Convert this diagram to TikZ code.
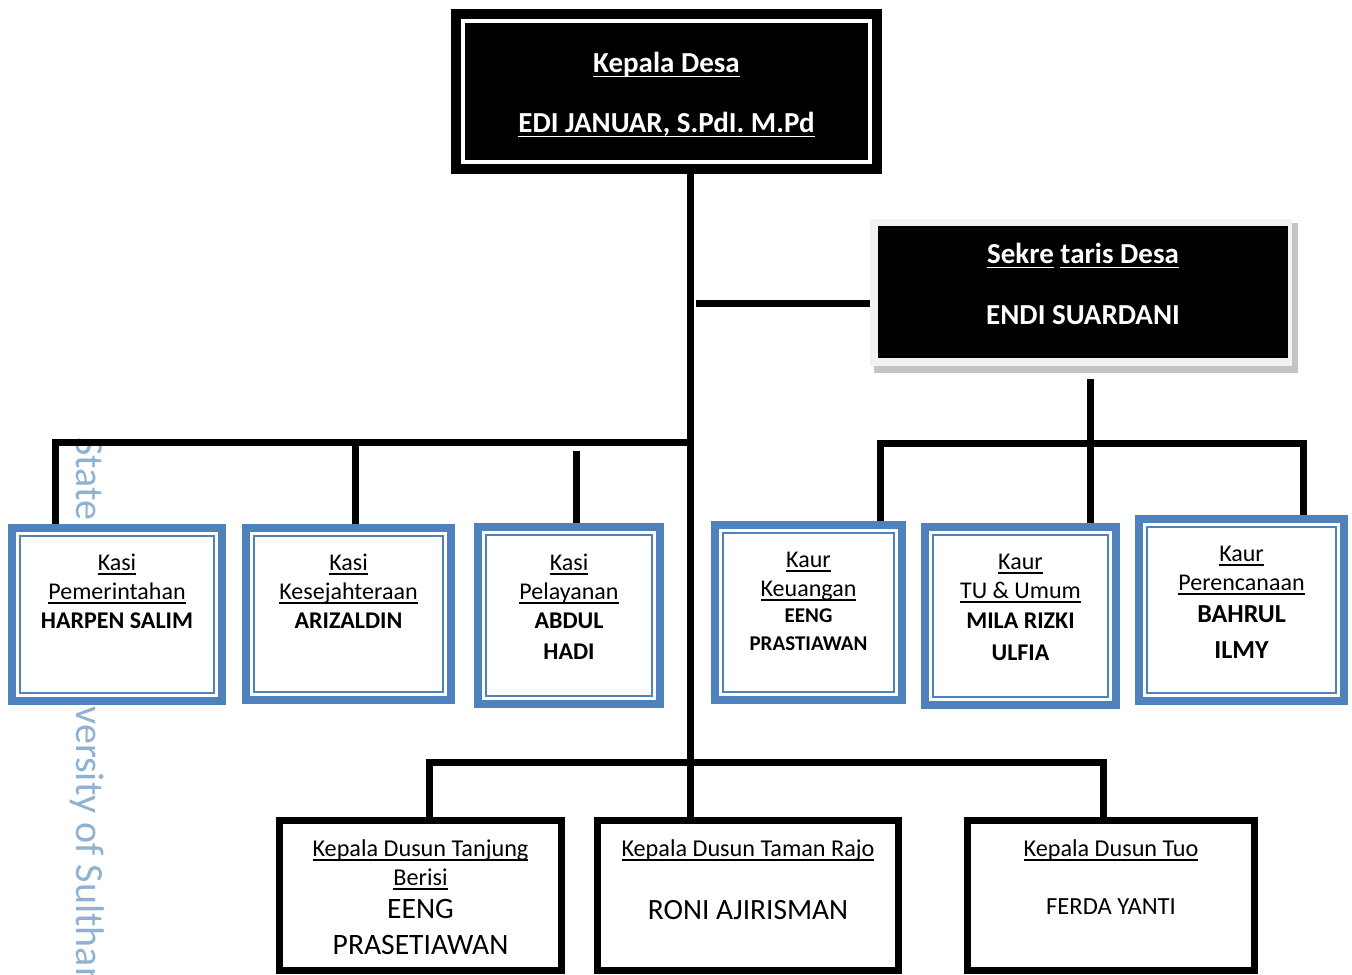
\documentclass[tikz,border=0pt]{standalone}
\usepackage{fontspec}
\setmainfont{Carlito}
\usetikzlibrary{backgrounds}

\definecolor{kasiblue}{HTML}{4F81BD}
\definecolor{wmblue}{HTML}{8FB2D2}
\definecolor{sekgray}{HTML}{F2F2F2}
\definecolor{sekshadow}{HTML}{C4C4C4}

\newlength{\garislen}
\newcommand{\garis}[1]{\settowidth{\garislen}{#1}\rlap{\rule[-2.3pt]{\garislen}{0.9pt}}#1}
\newcommand{\nama}[2][12]{{\fontsize{#1}{14.5}\selectfont\bfseries #2}}
\newcommand{\besar}[2][13]{{\fontsize{#1}{14.5}\selectfont #2}}

\begin{document}
\begin{tikzpicture}[x=0.5pt,y=-0.5pt,
    link/.style={line width=3.5pt},
    head box/.style={fill=black,inner sep=0pt,outer sep=0pt},
    kasi box/.style={draw=kasiblue,fill=white,line width=4pt,inner sep=0pt,outer sep=0pt},
    kasi inner/.style={draw=kasiblue,line width=1pt},
    dusun box/.style={draw=black,fill=white,line width=3.5pt,inner sep=0pt,outer sep=0pt},
    box text/.style={anchor=north,align=center,inner sep=0pt,font=\fontsize{12}{14.5}\selectfont},
    dusun text/.style={box text,font=\fontsize{12.1}{14.5}\selectfont},
    head text/.style={box text,text=white,font=\fontsize{14.5}{14.5}\selectfont\bfseries}]

  \useasboundingbox (0,0) rectangle (1352,974);

  % kepala desa
  \node[head box, minimum width=215.5pt, minimum height=82.5pt] (kades) at (666.5,91.5) {};
  \draw[white, line width=2pt] ([shift={(12,12)}]kades.north west) rectangle ([shift={(-12,-12)}]kades.south east);
  \node[head text] (kadestxt) at (666.5,52) {\strut\garis{Kepala Desa}\\[14.5pt]\garis{EDI JANUAR, S.PdI. M.Pd}};

  % sekretaris desa
  \node[head box, minimum width=205pt, minimum height=66pt] (sek) at (1083,292) {};
  \node[head text] (sektxt) at (1083,243) {\strut\garis{Sekre}\ \garis{taris Desa}\\[16pt]ENDI SUARDANI};

  % kasi dan kaur
  \node[kasi box, minimum width=105pt, minimum height=86.5pt] (pem) at (117,614.5) {};
  \node[kasi box, minimum width=102.5pt, minimum height=86pt] (kes) at (348.5,614) {};
  \node[kasi box, minimum width=91pt, minimum height=88.5pt] (pel) at (569,615.5) {};
  \node[kasi box, minimum width=93.5pt, minimum height=87.5pt] (keu) at (808.5,612.5) {};
  \node[kasi box, minimum width=95.5pt, minimum height=89pt] (tu) at (1020.5,616) {};
  \node[kasi box, minimum width=102.5pt, minimum height=91pt] (ren) at (1241.5,610) {};
  \foreach \b in {pem,kes,pel,keu,tu,ren}
    \draw[kasi inner] ([shift={(8,8)}]\b.north west) rectangle ([shift={(-8,-8)}]\b.south east);

  \node[box text] (pemtxt) at (117,549.7) {\strut\garis{Kasi}\\\garis{Pemerintahan}\\\nama{HARPEN SALIM}};
  \node[box text] (kestxt) at (348.5,549.7) {\strut\garis{Kasi}\\\garis{Kesejahteraan}\\\nama{ARIZALDIN}};
  \node[box text] (peltxt) at (569,549.7) {\strut\garis{Kasi}\\\garis{Pelayanan}\\\nama{ABDUL}\\[1pt]\nama{HADI}};
  \node[box text] (keutxt) at (808.5,546.7) {\strut\garis{Kaur}\\\garis{Keuangan}\\[-1.5pt]\nama[10.5]{EENG}\\[-0.5pt]\nama[10.5]{PRASTIAWAN}};
  \node[box text] (tutxt) at (1020.5,548.7) {\strut\garis{Kaur}\\\garis{TU \& Umum}\\[0.5pt]\nama{MILA RIZKI}\\[1.5pt]\nama{ULFIA}};
  \node[box text] (rentxt) at (1241.5,540.7) {\strut\garis{Kaur}\\\garis{Perencanaan}\\[1.5pt]\nama[13]{BAHRUL}\\[3.5pt]\nama[13]{ILMY}};

  % kepala dusun
  \node[dusun box, minimum width=141pt, minimum height=75pt] (tanjung) at (420.5,895.5) {};
  \node[dusun box, minimum width=150.5pt, minimum height=75pt] (taman) at (748,895.5) {};
  \node[dusun box, minimum width=143.5pt, minimum height=75pt] (tuo) at (1111,895.5) {};

  \node[dusun text] (tanjungtxt) at (420.5,835.7) {\strut\garis{Kepala Dusun Tanjung}\\\garis{Berisi}\\[2pt]\besar[14.8]{EENG}\\[3.5pt]\besar[14.8]{PRASETIAWAN}};
  \node[dusun text] (tamantxt) at (748,835.7) {\strut\garis{Kepala Dusun Taman Rajo}\\[17pt]\besar[14.7]{RONI AJIRISMAN}};
  \node[dusun text] (tuotxt) at (1111,835.7) {\strut\garis{Kepala Dusun Tuo}\\[14.5pt]\besar[12.3]{FERDA YANTI}};

  \begin{scope}[on background layer]
    \node[rotate=-90, anchor=base west, inner sep=0pt, text=wmblue, font=\fontsize{20}{24}\selectfont] (wm) at (76,437) {State Islamic University of Sulthan};

    \fill[sekshadow] ([shift={(-4,-3)}]sek.north west) rectangle ([shift={(10,15)}]sek.south east);
    \fill[sekgray] ([shift={(-8,-7)}]sek.north west) rectangle ([shift={(4,8)}]sek.south east);

    \coordinate (spine) at ([shift={(23.5,0)}]kades.south);
    \coordinate (lbus) at (690,442.5);
    \coordinate (rbus) at (1090.5,443.5);
    \coordinate (bbus) at (690,762);
    \coordinate (sekin) at (696,303.5);
    \coordinate (sekedge) at ([shift={(-8,0)}]sek.west);
    \coordinate (sekdown) at (1090.5,379);
    \coordinate (kesdrop) at ([shift={(6.5,0)}]kes.north);

    \draw[link] (spine) -- ([shift={(-58,0)}]taman.north);
    \draw[link] (sekin) -- (sekedge |- sekin);
    \draw[link] (lbus) -| ([shift={(-62,0)}]pem.north);
    \draw[link] (kesdrop |- lbus) -- (kesdrop);
    \draw[link] ([shift={(7,-76)}]pel.north) -- ([shift={(7,0)}]pel.north);
    \draw[link] (sekdown) -- (sekdown |- tu.north);
    \draw[link] ([shift={(71.5,0)}]keu.north) |- (rbus) -| ([shift={(62,0)}]ren.north);
    \draw[link] ([shift={(8.5,0)}]tanjung.north) |- (bbus) -| ([shift={(-8,0)}]tuo.north);
  \end{scope}

\end{tikzpicture}
\end{document}
